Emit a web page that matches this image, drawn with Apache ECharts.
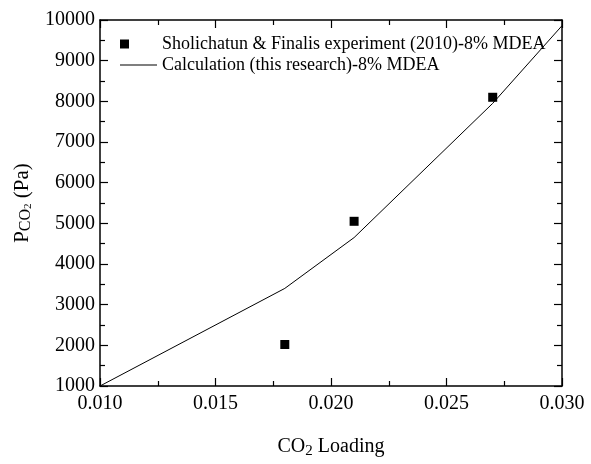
<!DOCTYPE html>
<html>
<head>
<meta charset="utf-8">
<script src="https://cdn.jsdelivr.net/npm/echarts@6/dist/echarts.min.js"></script>
<style>html,body{margin:0;padding:0;background:#fff}#c{width:591px;height:464px}</style>
</head>
<body>
<div id="c"></div>
<script>
var expLoading = [0.018, 0.021, 0.027];
var expPressure = [2020, 5050, 8100];
var calcLoading = [0.010, 0.018, 0.021, 0.027, 0.030];
var calcPressure = [1000, 3400, 4650, 7950, 9860];
var expName = 'Sholichatun & Finalis experiment (2010)-8% MDEA';
var calcName = 'Calculation (this research)-8% MDEA';

var FONT = '"Liberation Serif", "Times New Roman", serif';
var chart = echarts.init(document.getElementById('c'));
function pairs(xs, ys){ return xs.map(function(x,i){ return [x, ys[i]]; }); }
var axisLine = {show:true, onZero:false, lineStyle:{color:'#000', width:1.5}};
var tick = {show:true, inside:true, length:8, lineStyle:{color:'#000', width:1.2}};
var minor = {show:true, splitNumber:2, length:5, lineStyle:{color:'#000', width:1.2}};
chart.setOption({
  backgroundColor:'#fff',
  animation:false,
  grid:{left:100, right:29, top:20, bottom:68, containLabel:false},
  legend:{
    orient:'vertical', left:115, top:30, itemWidth:37, itemHeight:9, itemGap:3,
    textStyle:{fontFamily:FONT, fontSize:18, color:'#000', lineHeight:18},
    data:[{name:expName, icon:'square'}, {name:calcName, icon:'path://M0 0H37V1H0Z'}]
  },
  xAxis:[{
    type:'value', min:0.010, max:0.030, interval:0.005,
    axisLine:axisLine, axisTick:tick, minorTick:minor,
    splitLine:{show:false},
    axisLabel:{color:'#000', fontFamily:FONT, fontSize:20, margin:8, formatter:function(v){return v.toFixed(3);}},
    name:'{a|CO}{s|2}{a| Loading}', nameLocation:'middle', nameGap:48,
    nameTextStyle:{fontFamily:FONT, color:'#000', rich:{a:{fontFamily:FONT, fontSize:20, color:'#000'}, s:{fontFamily:FONT, fontSize:15, color:'#000', padding:[10,0,0,0]}}}
  },{
    type:'value', position:'top', min:0.010, max:0.030, interval:0.005,
    axisLine:axisLine, axisTick:tick, minorTick:minor,
    splitLine:{show:false}, axisLabel:{show:false}
  }],
  yAxis:[{
    type:'value', min:1000, max:10000, interval:1000,
    axisLine:axisLine, axisTick:tick, minorTick:minor,
    splitLine:{show:false},
    axisLabel:{color:'#000', fontFamily:FONT, fontSize:20, margin:5, formatter:function(v){return String(v);}},
    name:'{p|P}{s|CO}{t|2}{a| (Pa)}', nameLocation:'middle', nameGap:62, nameRotate:90,
    nameTextStyle:{fontFamily:FONT, color:'#000', rich:{
      p:{fontFamily:FONT, fontSize:21, color:'#000'},
      s:{fontFamily:FONT, fontSize:16, color:'#000', padding:[8,0,0,0]},
      t:{fontFamily:FONT, fontSize:11, color:'#000', padding:[12,0,0,0]},
      a:{fontFamily:FONT, fontSize:21, color:'#000'}}}
  },{
    type:'value', position:'right', min:1000, max:10000, interval:1000,
    axisLine:axisLine, axisTick:tick, minorTick:minor,
    splitLine:{show:false}, axisLabel:{show:false}
  }],
  series:[{
    name:expName, type:'scatter', symbol:'rect', symbolSize:9,
    itemStyle:{color:'#000', opacity:1}, data:pairs(expLoading, expPressure)
  },{
    name:calcName, type:'line', symbol:'none', smooth:false,
    lineStyle:{color:'#000', width:1}, itemStyle:{color:'#000'},
    data:pairs(calcLoading, calcPressure)
  }]
});
</script>
</body>
</html>
